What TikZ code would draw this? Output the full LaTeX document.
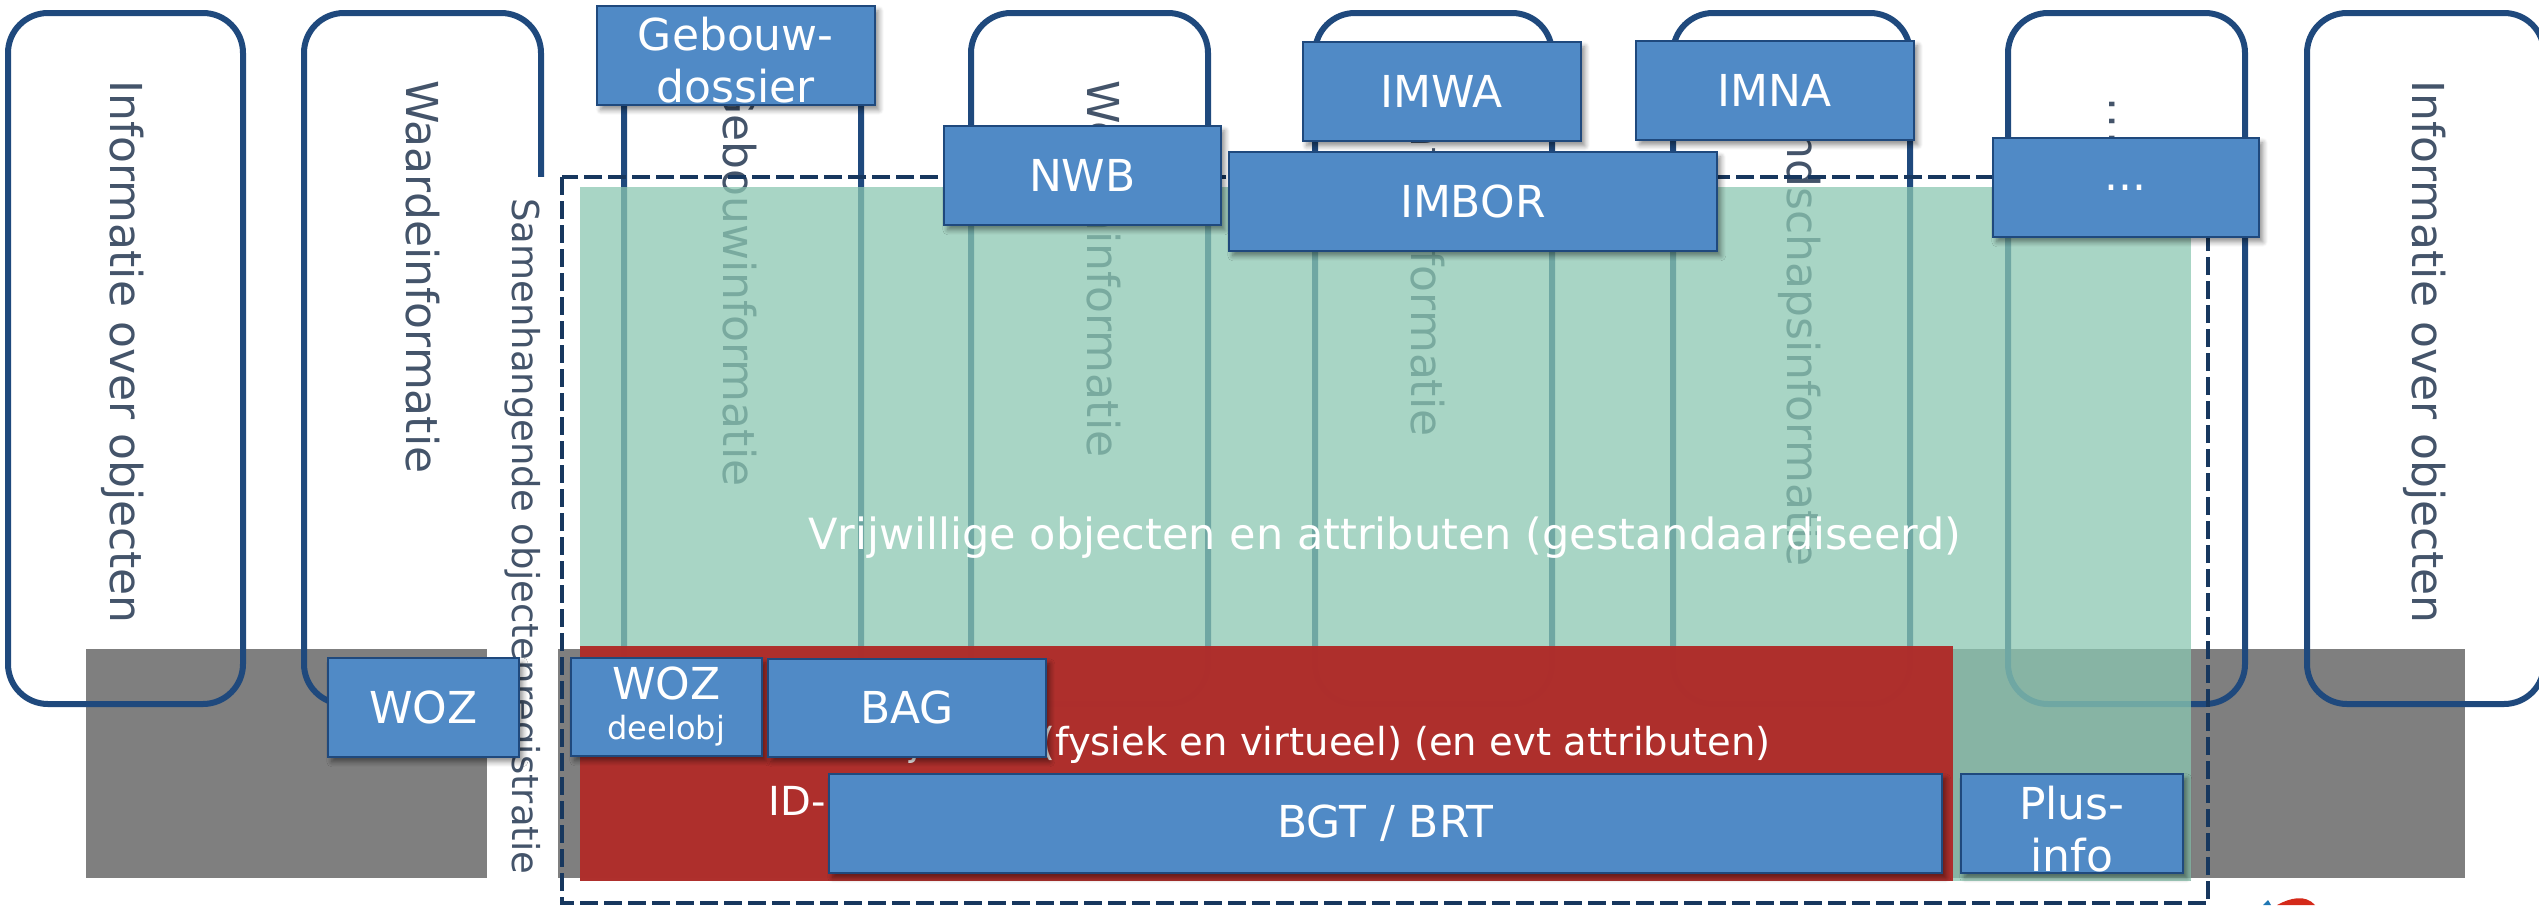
\documentclass[tikz,border=0pt]{standalone}
\usepackage{fontspec}
\setmainfont{DejaVu Sans}
\usetikzlibrary{shadows.blur}
\definecolor{navy}{HTML}{1F497D}
\definecolor{dashnavy}{HTML}{17375E}
\definecolor{txtnavy}{HTML}{44546A}
\definecolor{boxblue}{HTML}{508AC6}
\definecolor{greenfill}{RGB}{139,199,177}
\definecolor{redfill}{HTML}{B02A28}
\definecolor{greyfill}{HTML}{7F7F7F}
\definecolor{logored}{HTML}{D42A1A}
\definecolor{logoblue}{HTML}{1F77B4}
\tikzset{
  x=1pt,y=-1pt,
  colbox/.style={draw=navy,line width=6pt,rounded corners=40pt},
  vtext/.style={rotate=-90,anchor=west,text=txtnavy,font=\fontsize{44}{44}\selectfont,inner sep=0pt},
  infobox/.style={draw=navy,line width=1.6pt,fill=boxblue,text=white,align=center,
    font=\fontsize{44}{52}\selectfont,inner sep=0pt,
    blur shadow={shadow xshift=4pt,shadow yshift=-5pt,shadow blur radius=5pt,shadow blur steps=6,shadow opacity=45}},
  plaintext/.style={text=white,inner sep=0pt,font=\fontsize{43}{43}\selectfont},
}
\newcommand{\bx}[6]{\node[infobox,minimum width=#4pt-#2pt,minimum height=#5pt-#3pt,anchor=north west] (#1) at (#2,#3) {#6};}
\begin{document}
\begin{tikzpicture}
\useasboundingbox (0,0) rectangle (2539,905);
\clip (0,0) rectangle (2539,905);
\fill[greyfill] (86,649) coordinate (g1) rectangle (2465,878) coordinate (g2);
\draw[colbox] (8,13) coordinate (c1a) rectangle (243,704) coordinate (c1b);
\draw[colbox] (304,13) coordinate (c2a) rectangle (541,704) coordinate (c2b);
\draw[colbox] (624,13) coordinate (c3a) rectangle (861,704) coordinate (c3b);
\draw[colbox] (971,13) coordinate (c4a) rectangle (1208,704) coordinate (c4b);
\draw[colbox] (1315,13) coordinate (c5a) rectangle (1552,704) coordinate (c5b);
\draw[colbox] (1673,13) coordinate (c6a) rectangle (1910,704) coordinate (c6b);
\draw[colbox] (2008,13) coordinate (c7a) rectangle (2245,704) coordinate (c7b);
\draw[colbox] (2307,13) coordinate (c8a) rectangle (2544,704) coordinate (c8b);
\node[vtext] (t1) at (123,80) {Informatie over objecten};
\node[vtext] (t2) at (423,80) {Waardeinformatie};
\node[vtext] (t3) at (740,80) {Gebouwinformatie};
\node[vtext] (t4) at (1100,80) {Wegeninformatie};
\node[vtext] (t5) at (1428,80) {Waterinformatie};
\node[vtext] (t6) at (1800,80) {Landschapsinformatie};
\node[vtext] (t7) at (2112,97) {.\kern3pt.\kern3pt.};
\node[vtext] (t8) at (2425,80) {Informatie over objecten};
\fill[white] (487,177) rectangle (558,905);
\node[vtext,font=\fontsize{37}{37}\selectfont] (t9) at (523,198) {Samenhangende objectenregistratie};
\fill[greenfill,opacity=.75] (580,187) rectangle (2191,881);
\fill[redfill,opacity=.96] (580,646) rectangle (1953,881);
\draw[dashnavy,line width=4.5pt,dash pattern=on 18pt off 6pt] (562,177) rectangle (2208,903);
\node[plaintext] (vrij) at (1385,538) {Vrijwillige objecten en attributen (gestandaardiseerd)};
\node[plaintext,anchor=base east,font=\fontsize{38.5}{38.5}\selectfont] (red) at (1771,755) {objecten (fysiek en virtueel) (en evt attributen)};
\node[plaintext,anchor=base east,font=\fontsize{40}{40}\selectfont] (idt) at (826,815) {ID-};
\bx{gd}{596}{5}{874}{104}{\rule{0pt}{44pt}Gebouw-\\dossier}
\bx{nwb}{943}{125}{1220}{224}{NWB}
\bx{imwa}{1302}{41}{1580}{140}{IMWA}
\bx{imna}{1635}{40}{1913}{139}{IMNA}
\bx{imbor}{1228}{151}{1716}{250}{IMBOR}
\bx{dots}{1992}{137}{2258}{236}{...}
\bx{woz}{327}{657}{518}{756}{WOZ}
\bx{wd}{570}{657}{761}{755}{WOZ\\[-12pt]{\fontsize{32}{32}\selectfont deelobj}}
\bx{bag}{767}{658}{1045}{756}{BAG}
\bx{bgt}{828}{773}{1941}{872}{BGT / BRT}
\bx{plus}{1960}{773}{2182}{872}{\rule{0pt}{44pt}Plus-\\info}
\fill[logored] (2277,905) .. controls (2290,898) and (2305,894) .. (2315,905) -- cycle;
\fill[logoblue] (2263,905) -- (2268,900) -- (2271,905) -- cycle;
\end{tikzpicture}
\end{document}
